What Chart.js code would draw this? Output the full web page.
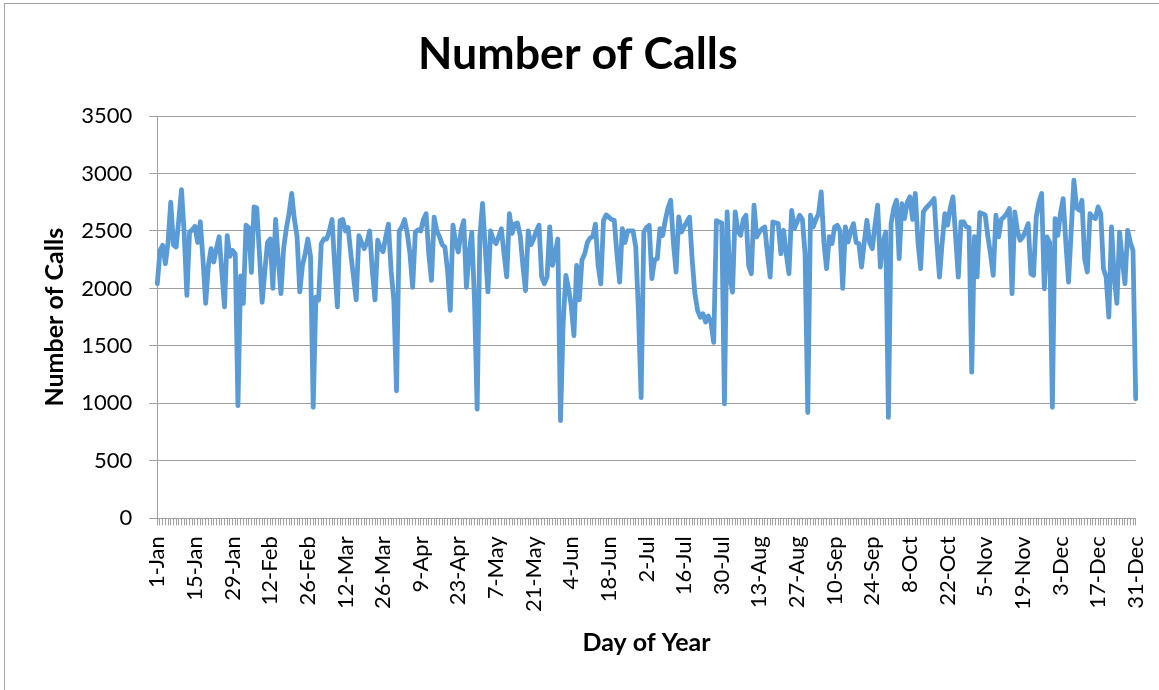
<!DOCTYPE html>
<html>
<head>
<meta charset="utf-8">
<script src="https://cdn.jsdelivr.net/npm/chart.js@4"></script>
<style>
  html, body { margin: 0; padding: 0; background: #ffffff; overflow: hidden; }
  #wrap { position: relative; width: 1159px; height: 690px; }
  #frame { position: absolute; left: 4px; top: 3px; width: 2000px; height: 2000px;
           border-left: 1px solid #a6a6a6; border-top: 1px solid #a6a6a6; pointer-events: none; }
</style>
</head>
<body>
<div id="wrap">
  <canvas id="c" width="1159" height="690"></canvas>
  <div id="frame"></div>
</div>
<script>
// ---- data ----
const monthNames = ["Jan","Feb","Mar","Apr","May","Jun","Jul","Aug","Sep","Oct","Nov","Dec"];
const monthLengths = [31,28,31,30,31,30,31,31,30,31,30,31];

const tickLabels = ["1-Jan","15-Jan","29-Jan","12-Feb","26-Feb","12-Mar","26-Mar","9-Apr","23-Apr",
  "7-May","21-May","4-Jun","18-Jun","2-Jul","16-Jul","30-Jul","13-Aug","27-Aug","10-Sep","24-Sep",
  "8-Oct","22-Oct","5-Nov","19-Nov","3-Dec","17-Dec","31-Dec"];

const yTicks = [0, 500, 1000, 1500, 2000, 2500, 3000, 3500];

const calls = [
  2041, 2330, 2375, 2215, 2400, 2750, 2380, 2360, 2600, 2860,
  2480, 1940, 2490, 2510, 2540, 2400, 2580, 2250, 1870, 2200,
  2346, 2230, 2350, 2450, 2150, 1840, 2460, 2280, 2330, 2300,
  980, 2110, 1870, 2550, 2530, 2140, 2710, 2700, 2300, 1880,
  2150, 2400, 2430, 2000, 2600, 2250, 1955, 2350, 2520, 2650,
  2826, 2600, 2450, 1970, 2200, 2300, 2430, 2280, 966, 1925,
  1900, 2390, 2430, 2430, 2500, 2600, 2200, 1840, 2590, 2600,
  2500, 2530, 2300, 2100, 1900, 2460, 2400, 2346, 2400, 2500,
  2150, 1900, 2420, 2350, 2320, 2450, 2560, 2150, 1900, 1110,
  2500, 2535, 2600, 2480, 2300, 2010, 2490, 2510, 2500, 2600,
  2650, 2300, 2070, 2620, 2500, 2450, 2380, 2360, 2150, 1810,
  2550, 2400, 2317, 2500, 2590, 2010, 2300, 2490, 1900, 950,
  2450, 2740, 2350, 1970, 2500, 2420, 2390, 2450, 2520, 2300,
  2100, 2650, 2480, 2560, 2570, 2460, 2200, 1980, 2500, 2380,
  2430, 2500, 2550, 2100, 2041, 2100, 2535, 2200, 2300, 2430,
  850, 1700, 2114, 2000, 1850, 1590, 2200, 1900, 2250, 2300,
  2400, 2440, 2450, 2560, 2200, 2040, 2590, 2640, 2620, 2600,
  2593, 2300, 2055, 2520, 2400, 2500, 2500, 2500, 2360, 1800,
  1050, 2490, 2530, 2550, 2085, 2250, 2259, 2520, 2460, 2593,
  2700, 2767, 2400, 2143, 2622, 2491, 2535, 2580, 2620, 2250,
  1954, 1809, 1750, 1780, 1707, 1760, 1700, 1530, 2590, 2579,
  2570, 995, 2666, 2100, 1968, 2666, 2500, 2462, 2600, 2637,
  2200, 2128, 2724, 2448, 2491, 2520, 2535, 2300, 2099, 2579,
  2570, 2564, 2302, 2506, 2300, 2128, 2680, 2520, 2580, 2637,
  2600, 2300, 920, 2637, 2535, 2600, 2650, 2840, 2400, 2172,
  2450, 2390, 2535, 2550, 2500, 2000, 2535, 2404, 2500, 2564,
  2400, 2390, 2186, 2400, 2593, 2400, 2346, 2550, 2724, 2186,
  2400, 2491, 878, 2564, 2700, 2767, 2259, 2738, 2608, 2750,
  2796, 2600, 2826, 2400, 2172, 2666, 2700, 2724, 2750, 2782,
  2400, 2099, 2400, 2651, 2550, 2700, 2796, 2450, 2099, 2579,
  2579, 2535, 2530, 1271, 2450, 2100, 2660, 2650, 2640, 2450,
  2300, 2114, 2637, 2448, 2600, 2622, 2650, 2695, 1954, 2666,
  2500, 2419, 2448, 2500, 2564, 2128, 2114, 2622, 2750, 2826,
  1997, 2448, 2400, 966, 2608, 2462, 2651, 2782, 2400, 2055,
  2500, 2942, 2700, 2680, 2767, 2259, 2143, 2651, 2620, 2608,
  2709, 2651, 2172, 2099, 1750, 2535, 2100, 1870, 2490, 2250,
  2041, 2506, 2400, 2330, 1040
];

// category labels: one per day of a 365-day year, "d-Mon"
const categories = [];
monthNames.forEach((m, i) => {
  for (let d = 1; d <= monthLengths[i]; d++) categories.push(d + "-" + m);
});
const tickSet = new Set(tickLabels);

// ---- layout constants ----
const PLOT_LEFT = 157.3, PLOT_BOTTOM = 518.3, PAD_LEFT = 20;
const GRID = "#a0a0a0";
const FONT = "Lato, 'Open Sans', sans-serif";

new Chart(document.getElementById("c"), {
  type: "line",
  data: {
    labels: categories,
    datasets: [{
      label: "Number of Calls",
      data: calls,
      borderColor: "#5B9BD5",
      borderWidth: 4.8,
      pointRadius: 0,
      tension: 0,
      fill: false,
      borderJoinStyle: "round",
      borderCapStyle: "round"
    }]
  },
  options: {
    responsive: false,
    animation: false,
    events: [],
    layout: { padding: { left: PAD_LEFT, right: 23.3, top: 0, bottom: 0 } },
    plugins: {
      legend: { display: false },
      tooltip: { enabled: false },
      title: {
        display: true,
        text: "Number of Calls",
        color: "#000000",
        font: { family: FONT, size: 44.7, weight: "bold" },
        padding: { top: 28, bottom: 34.4 }
      }
    },
    scales: {
      x: {
        type: "category",
        offset: false,
        afterFit: (s) => { s.height = 690 - PLOT_BOTTOM; s.paddingLeft = 0; s.paddingRight = 0; },
        border: { display: true, color: GRID, width: 1 },
        grid: { display: true, drawOnChartArea: false, drawTicks: true, tickLength: 7, color: GRID, offset: false },
        ticks: {
          autoSkip: false,
          minRotation: 90,
          maxRotation: 90,
          padding: 11,
          color: "#000000",
          font: { family: FONT, size: 22 },
          callback: function (value, index) {
            const lab = categories[index];
            return tickSet.has(lab) ? lab : "";
          }
        },
        title: {
          display: true,
          text: "Day of Year",
          color: "#000000",
          font: { family: FONT, size: 25, weight: "bold" },
          padding: { top: 0, bottom: 32 }
        }
      },
      y: {
        min: yTicks[0],
        max: yTicks[yTicks.length - 1],
        afterFit: (s) => { s.width = PLOT_LEFT - PAD_LEFT; },
        afterBuildTicks: (s) => { s.ticks = yTicks.map(v => ({ value: v })); },
        border: { display: true, color: GRID, width: 1 },
        grid: { color: GRID, lineWidth: 1, drawTicks: true, tickLength: 8 },
        ticks: {
          padding: 17,
          color: "#000000",
          font: { family: FONT, size: 22 },
          callback: (v) => String(v)
        },
        title: {
          display: true,
          text: "Number of Calls",
          color: "#000000",
          font: { family: FONT, size: 25, weight: "bold" },
          padding: { top: 19.7, bottom: 0 }
        }
      }
    }
  }
});
</script>
</body>
</html>
